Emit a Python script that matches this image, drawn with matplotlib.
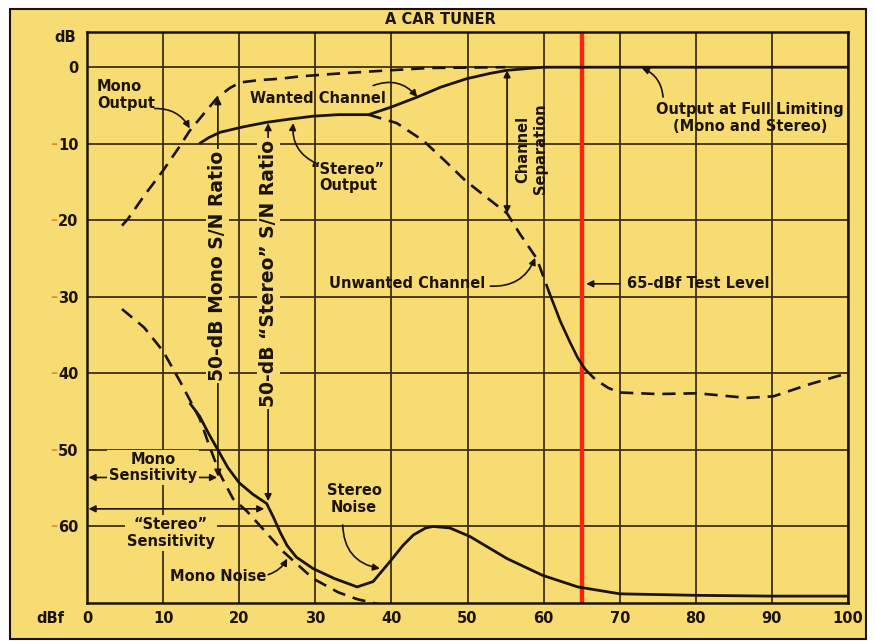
import matplotlib
matplotlib.use("Agg")
import matplotlib.pyplot as plt
from matplotlib.patches import Rectangle

# Mono output (dashed)
mono_out_x = [4.6, 5.4, 7.5, 10.0, 12.0, 13.5, 15.5, 17.2, 18.8, 20.1, 22.5, 25.4, 28.0, 32.0, 35.0, 39.8, 45.0, 55.0]
mono_out_y = [-20.7, -19.8, -16.8, -13.5, -10.6, -8.3, -5.9, -3.9, -2.7, -2.0, -1.7, -1.5, -1.2, -0.9, -0.7, -0.4, -0.1, 0.0]

# "Stereo" output / wanted channel (solid)
wanted_x = [14.9, 16.0, 17.5, 20.5, 23.6, 26.5, 29.7, 33.0, 37.0, 40.0, 43.4, 46.5, 49.9, 53.0, 55.2, 60.0, 100.0]
wanted_y = [-9.9, -9.2, -8.5, -7.8, -7.2, -6.8, -6.4, -6.2, -6.2, -5.2, -3.9, -2.6, -1.5, -0.8, -0.4, 0.0, 0.0]

# Unwanted channel (dashed, solid around the test level)
unwanted_x = [37.0, 40.7, 44.2, 47.0, 49.7, 52.5, 55.2, 56.9, 59.1, 60.8]
unwanted_y = [-6.2, -7.3, -9.6, -12.2, -14.8, -17.0, -19.1, -21.8, -25.0, -29.6]
unwanted_mid_x = [60.8, 62.2, 63.5, 64.5, 65.5]
unwanted_mid_y = [-29.6, -33.2, -36.0, -38.0, -39.5]
unwanted_end_x = [65.5, 66.8, 68.5, 70.0, 75.0, 80.2, 86.7, 90.2, 95.0, 99.9]
unwanted_end_y = [-39.5, -40.8, -41.9, -42.5, -42.7, -42.6, -43.2, -43.0, -41.4, -40.0]

# Mono noise (dashed)
mono_noise_x = [4.6, 7.5, 10.0, 12.2, 14.8, 16.2, 17.5, 19.2, 21.0, 23.1, 25.8, 29.7, 33.0, 35.5, 38.5]
mono_noise_y = [-31.6, -34.0, -37.1, -41.0, -45.9, -49.8, -53.2, -56.4, -58.0, -60.3, -63.3, -66.8, -68.6, -69.5, -70.2]

# Stereo noise (solid)
stereo_noise_x = [13.6, 14.8, 16.0, 17.2, 18.5, 20.0, 21.8, 23.6, 24.5, 25.4, 26.3, 27.5, 29.7, 32.5, 35.5, 37.6,
                  39.8, 41.5, 42.9, 44.5, 45.5, 47.7, 50.3, 55.2, 59.9, 64.5, 70.0, 80.2, 90.0, 99.9]
stereo_noise_y = [-44.0, -45.6, -47.9, -50.0, -52.3, -54.3, -55.8, -57.0, -58.8, -60.8, -62.5, -64.0, -65.5, -66.8,
                  -67.9, -67.2, -64.6, -62.5, -61.1, -60.2, -60.0, -60.2, -61.3, -64.2, -66.4, -67.9, -68.8, -69.0,
                  -69.1, -69.1]

x_ticks = [0, 10, 20, 30, 40, 50, 60, 70, 80, 90, 100]
y_ticks = [0, -10, -20, -30, -40, -50, -60]
y_tick_labels = ["0", "10", "20", "30", "40", "50", "60"]
test_level = 65

bg = "#f6dc72"
ink = "#1c140c"
grid_c = "#3f2d1a"

plt.rcParams["font.family"] = ["DejaVu Sans"]
plt.rcParams["font.weight"] = "bold"

fig = plt.figure(figsize=(8.75, 6.41), dpi=100, facecolor="white")
frame = Rectangle((10 / 875, 1 - 639 / 641), 856 / 875, 630 / 641, transform=fig.transFigure,
                  facecolor=bg, edgecolor=ink, lw=1.5, zorder=-10)
fig.add_artist(frame)

ax = fig.add_axes([87 / 875, 1 - 603 / 641, 761 / 875, 571 / 641])
ax.set_facecolor(bg)
ax.set_xlim(0, 100)
ax.set_ylim(-70, 4.6)

for xv in x_ticks[1:]:
    ax.axvline(xv, color=grid_c, lw=1.3, zorder=1)
for yv in y_ticks:
    ax.axhline(yv, color=grid_c, lw=1.3, zorder=1)
for s in ax.spines.values():
    s.set_color(ink)
    s.set_linewidth(1.8)

ax.set_xticks(x_ticks)
ax.set_yticks(y_ticks)
ax.set_yticklabels(y_tick_labels)
ax.tick_params(length=0, labelsize=10.5, colors=ink, pad=6)
for lab in ax.get_xticklabels() + ax.get_yticklabels():
    lab.set_fontweight("bold")
# small orange dashes before the negative labels
for yv in y_ticks[1:]:
    ax.text(-3.9, yv, "–", color="#e0902a", fontsize=10, ha="right", va="center", clip_on=False)

ax.text(-1.5, 3.9, "dB", ha="right", va="center", fontsize=10.5, color=ink, clip_on=False)
ax.text(-3.0, -72.0, "dBf", ha="right", va="center", fontsize=10.5, color=ink, clip_on=False)
fig.text(440 / 875, 1 - 20 / 641, "A CAR TUNER", ha="center", va="center", fontsize=10.5,
         fontweight="bold", color=ink)

# test level
ax.axvline(test_level, color="#ff2410", lw=3.2, zorder=2)

dash = (0, (5, 3))
ax.plot(mono_out_x, mono_out_y, color=ink, lw=1.9, linestyle=dash, zorder=3)
ax.plot(wanted_x, wanted_y, color=ink, lw=2.0, zorder=3)
ax.plot(unwanted_x, unwanted_y, color=ink, lw=1.9, linestyle=dash, zorder=3)
ax.plot(unwanted_mid_x, unwanted_mid_y, color=ink, lw=1.9, zorder=3)
ax.plot(unwanted_end_x, unwanted_end_y, color=ink, lw=1.9, linestyle=dash, zorder=3)
ax.plot(mono_noise_x, mono_noise_y, color=ink, lw=1.9, linestyle=dash, zorder=3)
ax.plot(stereo_noise_x, stereo_noise_y, color=ink, lw=2.0, zorder=3)

fs = 10.5
arrow = dict(arrowstyle="-|>", color=ink, lw=1.2, mutation_scale=10, shrinkA=0, shrinkB=0)
dbl = dict(arrowstyle="<|-|>", color=ink, lw=1.2, mutation_scale=10, shrinkA=0, shrinkB=0)
box = dict(facecolor=bg, edgecolor="none", pad=1.5)


def note(text, xy, xytext, rad=0.0, **kw):
    ax.annotate("", xy=xy, xytext=xytext,
                arrowprops=dict(arrow, connectionstyle=f"arc3,rad={rad}"), zorder=4)
    ax.text(*kw.pop("pos"), text, fontsize=fs, color=ink, zorder=5, linespacing=1.15, **kw)


note("Mono\nOutput", (13.5, -8.0), (8.9, -5.4), rad=-0.3, pos=(1.3, -3.6), ha="left", va="center")
note("Wanted Channel", (43.4, -3.9), (37.6, -2.4), rad=-0.35, pos=(30.4, -4.1), ha="center", va="center")
note("“Stereo”\nOutput", (27.1, -7.3), (30.2, -12.6), rad=-0.35, pos=(34.3, -14.4), ha="center", va="center")
note("Unwanted Channel", (58.9, -24.9), (53.0, -28.6), rad=0.35, pos=(42.1, -28.2), ha="center", va="center")
note("65-dBf Test Level", (65.6, -28.3), (70.0, -28.3), pos=(71.0, -28.3), ha="left", va="center")
note("Output at Full Limiting\n(Mono and Stereo)", (72.9, -0.1), (75.7, -3.9), rad=0.3,
     pos=(87.1, -6.6), ha="center", va="center", multialignment="center")
note("Mono Noise", (26.3, -64.2), (23.8, -66.3), rad=0.2, pos=(17.2, -66.6), ha="center", va="center")
note("Stereo\nNoise", (38.5, -65.5), (33.6, -59.8), rad=0.4, pos=(35.1, -56.4), ha="center", va="center",
     multialignment="center")

# channel separation
ax.annotate("", xy=(55.2, -0.4), xytext=(55.2, -19.1), arrowprops=dbl, zorder=4)
ax.text(58.4, -10.7, "Channel\nSeparation", rotation=90, fontsize=fs, color=ink, ha="center", va="center",
        multialignment="center", zorder=5, linespacing=1.2)

# S/N ratio markers
ax.annotate("", xy=(17.2, -3.9), xytext=(17.2, -53.5), arrowprops=dbl, zorder=4)
ax.text(17.2, -26.0, "50-dB Mono S/N Ratio", rotation=90, fontsize=13.5, color=ink, ha="center", va="center",
        bbox=box, zorder=5)
ax.annotate("", xy=(23.8, -7.3), xytext=(23.8, -56.7), arrowprops=dbl, zorder=4)
ax.text(23.8, -27.0, "50-dB “Stereo” S/N Ratio", rotation=90, fontsize=13.5, color=ink, ha="center",
        va="center", bbox=box, zorder=5)

# sensitivity markers
ax.annotate("", xy=(0.2, -53.6), xytext=(17.1, -53.6), arrowprops=dbl, zorder=4)
ax.text(8.7, -52.3, "Mono\nSensitivity", fontsize=fs, color=ink, ha="center", va="center",
        multialignment="center", bbox=box, zorder=5, linespacing=1.15)
ax.annotate("", xy=(0.2, -57.7), xytext=(23.3, -57.7), arrowprops=dbl, zorder=4)
ax.text(11.0, -60.9, "“Stereo”\nSensitivity", fontsize=fs, color=ink, ha="center", va="center",
        multialignment="center", bbox=box, zorder=5, linespacing=1.15)

fig.savefig("out.png", dpi=100, facecolor="white")
